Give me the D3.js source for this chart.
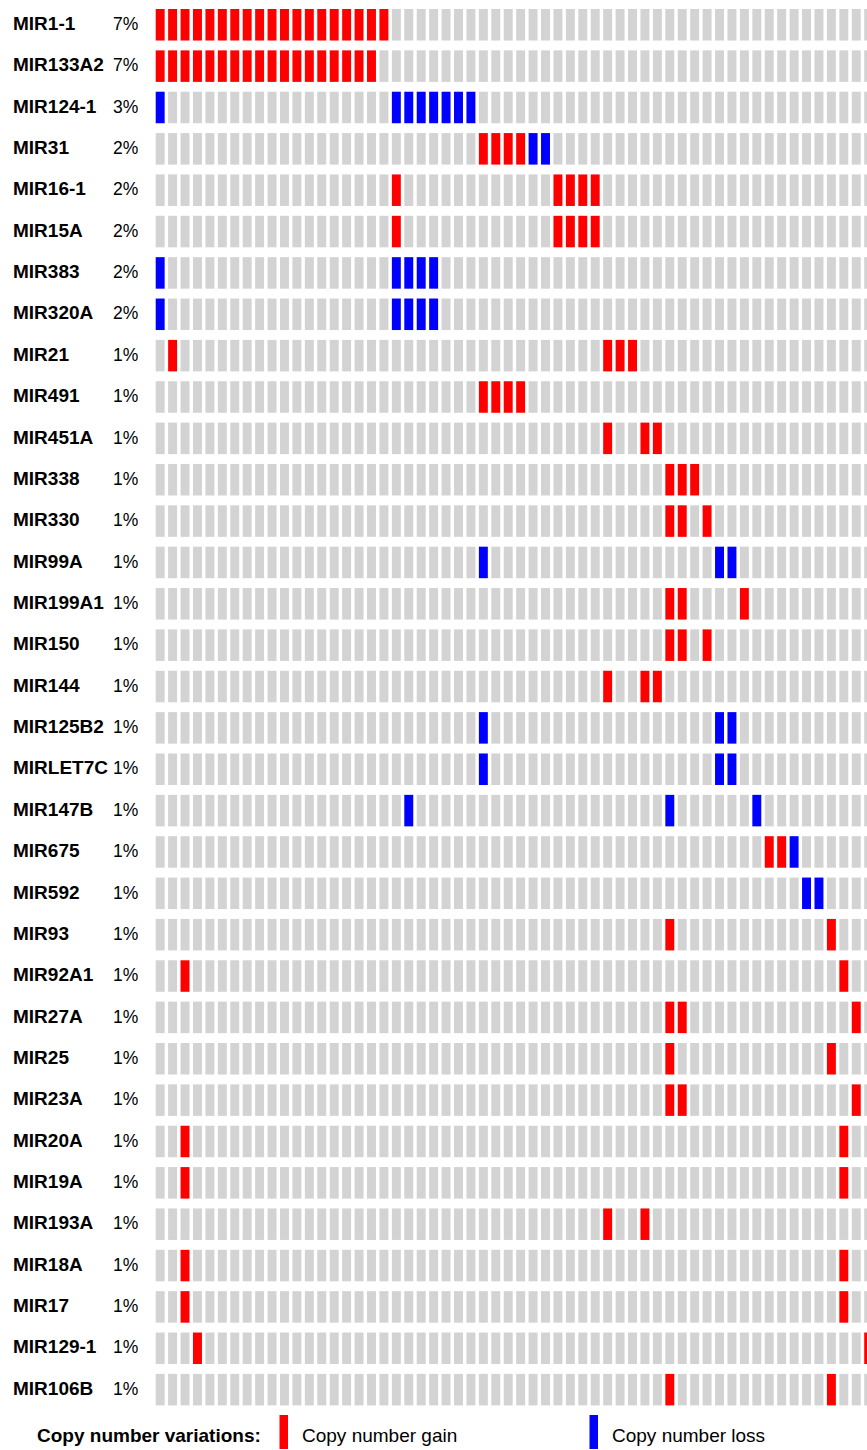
<!DOCTYPE html>
<html>
<head>
<meta charset="utf-8">
<script src="https://cdn.jsdelivr.net/npm/d3@7"></script>
<style>
  html, body { margin: 0; padding: 0; background: #fff; }
  svg { display: block; }
  text { font-family: "Liberation Sans", Arial, Helvetica, sans-serif; fill: #000; }
</style>
</head>
<body>
<div id="chart"></div>
<script>
// ---- data ----
const genes = ["MIR1-1","MIR133A2","MIR124-1","MIR31","MIR16-1","MIR15A","MIR383","MIR320A",
  "MIR21","MIR491","MIR451A","MIR338","MIR330","MIR99A","MIR199A1","MIR150","MIR144",
  "MIR125B2","MIRLET7C","MIR147B","MIR675","MIR592","MIR93","MIR92A1","MIR27A","MIR25",
  "MIR23A","MIR20A","MIR19A","MIR193A","MIR18A","MIR17","MIR129-1","MIR106B"];
const percents = ["7%","7%","3%","2%","2%","2%","2%","2%","1%","1%","1%","1%","1%","1%","1%",
  "1%","1%","1%","1%","1%","1%","1%","1%","1%","1%","1%","1%","1%","1%","1%","1%","1%","1%","1%"];
// sample (column) indices with copy number gain, per gene
const gainSamples = [
  [0,1,2,3,4,5,6,7,8,9,10,11,12,13,14,15,16,17,18],
  [0,1,2,3,4,5,6,7,8,9,10,11,12,13,14,15,16,17],
  [],
  [26,27,28,29],
  [19,32,33,34,35],
  [19,32,33,34,35],
  [],
  [],
  [1,36,37,38],
  [26,27,28,29],
  [36,39,40],
  [41,42,43],
  [41,42,44],
  [],
  [41,42,47],
  [41,42,44],
  [36,39,40],
  [],
  [],
  [],
  [49,50],
  [],
  [41,54],
  [2,55],
  [41,42,56],
  [41,54],
  [41,42,56],
  [2,55],
  [2,55],
  [36,39],
  [2,55],
  [2,55],
  [3,57],
  [41,54]
];
// sample (column) indices with copy number loss, per gene
const lossSamples = [
  [],
  [],
  [0,19,20,21,22,23,24,25],
  [30,31],
  [],
  [],
  [0,19,20,21,22],
  [0,19,20,21,22],
  [],[],[],[],[],
  [26,45,46],
  [],[],[],
  [26,45,46],
  [26,45,46],
  [20,41,48],
  [51],
  [52,53],
  [],[],[],[],[],[],[],[],[],[],[],[]
];
const totalSamples = 270;
const legendTitle = "Copy number variations:";
const legendItems = [
  {label: "Copy number gain", type: "gain"},
  {label: "Copy number loss", type: "loss"}
];

// ---- drawing ----
const W = 867, H = 1450;
const colors = {none: "#d3d3d3", gain: "#ff0000", loss: "#0000ff"};

const svg = d3.select("#chart").append("svg")
  .attr("width", W).attr("height", H);

const step = 12.43;
const x = d3.scaleBand()
  .domain(d3.range(totalSamples))
  .range([153.96, 153.96 + totalSamples * step])
  .paddingInner(0.28).paddingOuter(0.14);

const rowStep = 41.36;
const y = d3.scaleBand()
  .domain(genes)
  .range([4.08, 4.08 + genes.length * rowStep])
  .paddingInner(0.238).paddingOuter(0.119);

const cells = [];
genes.forEach((g, gi) => {
  const gs = new Set(gainSamples[gi]);
  const ls = new Set(lossSamples[gi]);
  for (let s = 0; s < totalSamples; s++) {
    const xs = x(s);
    if (xs > W) break;
    cells.push({gene: g, sample: s, type: gs.has(s) ? "gain" : (ls.has(s) ? "loss" : "none")});
  }
});

svg.append("g").selectAll("rect").data(cells).join("rect")
  .attr("x", d => x(d.sample))
  .attr("y", d => y(d.gene))
  .attr("width", x.bandwidth())
  .attr("height", y.bandwidth())
  .attr("fill", d => colors[d.type]);

const labels = svg.append("g");
labels.selectAll("text.gene").data(genes).join("text")
  .attr("class", "gene")
  .attr("x", 13)
  .attr("y", d => y(d) + y.bandwidth() / 2 + 5.2)
  .attr("font-size", 19)
  .attr("font-weight", "bold")
  .text(d => d);

labels.selectAll("text.pct").data(percents).join("text")
  .attr("class", "pct")
  .attr("x", 113)
  .attr("y", (d, i) => y(genes[i]) + y.bandwidth() / 2 + 5.2)
  .attr("font-size", 17.5)
  .text(d => d);

// legend
const lyBase = 1441.7;
const legend = svg.append("g");
legend.append("text")
  .attr("x", 37).attr("y", lyBase)
  .attr("font-size", 19).attr("font-weight", "bold")
  .text(legendTitle);
const lx = [279.5, 589.5];
legendItems.forEach((it, i) => {
  legend.append("rect")
    .attr("x", lx[i]).attr("y", 1415)
    .attr("width", 8.5).attr("height", 34)
    .attr("fill", colors[it.type]);
  legend.append("text")
    .attr("x", lx[i] + 22.5).attr("y", lyBase)
    .attr("font-size", 19)
    .text(it.label);
});
</script>
</body>
</html>
